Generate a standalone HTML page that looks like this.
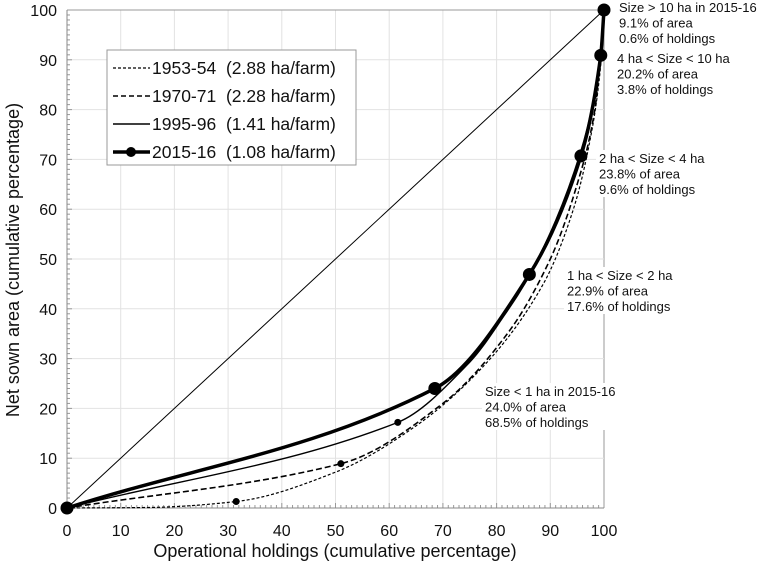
<!DOCTYPE html>
<html><head><meta charset="utf-8"><style>
body{margin:0;background:#fff}
svg{display:block;font-family:"Liberation Sans",Arial,sans-serif}
</style></head><body>
<svg id="chart" width="765" height="565" viewBox="0 0 765 565"></svg>
<script>
const xTicks=[0,10,20,30,40,50,60,70,80,90,100];
const yTicks=[0,10,20,30,40,50,60,70,80,90,100];
const s1953x=[0,15,31.5,50,65,78,88.7,94.3,97.6,99.3,100];
const s1953y=[0,0.1,1.3,7.2,16.5,29,45,60,75,88,100];
const s1970x=[0,51,70,82,90,95,98.3,100];
const s1970y=[0,8.9,21,35,50,65,80,100];
const s1995x=[0,61.6,75,81,86.5,95.5,99.3,100];
const s1995y=[0,17.2,29.3,38,47.5,71,90,100];
const s2015x=[0,68.5,86.1,95.7,99.4,100];
const s2015y=[0,24.0,46.9,70.7,90.9,100];
const NS='http://www.w3.org/2000/svg';
const svg=document.getElementById('chart');
const X0=67,X1=604,Y0=508,Y1=10;
const xs=v=>X0+(X1-X0)*v/100, ys=v=>Y0-(Y0-Y1)*v/100;
function el(t,a,p){const e=document.createElementNS(NS,t);for(const k in a)e.setAttribute(k,a[k]);(p||svg).appendChild(e);return e;}
xTicks.forEach(t=>{if(t>0){const l=el('line',{x1:xs(t),x2:xs(t),y1:Y1,y2:Y0,stroke:t==100?'#999':'#e2e2e2','stroke-width':1});

}});
yTicks.forEach(t=>{if(t>0){const l=el('line',{x1:X0,x2:X1,y1:ys(t),y2:ys(t),stroke:t==100?'#999':'#e2e2e2','stroke-width':1});

}});
for(let i=0;i<=100;i++){
 const a=el('line',{x1:xs(i),x2:xs(i),y1:Y0,y2:Y0-(i%10?3:5),stroke:'#999','stroke-width':1});
 
 
 const b=el('line',{x1:X0,x2:X0+(i%10?3:5),y1:ys(i),y2:ys(i),stroke:'#999','stroke-width':1});
 
 
}
const ax=el('line',{x1:X0,x2:X1,y1:Y0,y2:Y0,stroke:'#888'});


const ay=el('line',{x1:X0,x2:X0,y1:Y1,y2:Y0,stroke:'#888'});


xTicks.forEach(t=>{const e=el('text',{x:xs(t),y:536,'text-anchor':'middle','font-size':16,fill:'#111'});e.textContent=t;

});
yTicks.forEach(t=>{const e=el('text',{x:57,y:ys(t)+6,'text-anchor':'end','font-size':16,fill:'#111'});e.textContent=t;

});
const xt=el('text',{x:335,y:557,'text-anchor':'middle','font-size':18,fill:'#111'});xt.textContent='Operational holdings (cumulative percentage)';


const yt=el('text',{x:0,y:0,'text-anchor':'middle','font-size':18,fill:'#111',transform:'translate(19,260) rotate(-90)'});yt.textContent='Net sown area (cumulative percentage)';


const eq=el('line',{x1:xs(0),y1:ys(0),x2:xs(100),y2:ys(100),stroke:'#000','stroke-width':1});


function smooth(px,py){
 const n=px.length,d=[],m=[];
 for(let i=0;i<n-1;i++)d.push((py[i+1]-py[i])/(px[i+1]-px[i]));
 m[0]=d[0];m[n-1]=d[n-2];
 for(let i=1;i<n-1;i++)m[i]=(d[i-1]*d[i]<=0)?0:2/(1/d[i-1]+1/d[i]);
 let s='M'+xs(px[0])+','+ys(py[0]);
 for(let i=0;i<n-1;i++){
  const h=(px[i+1]-px[i])/3;
  s+='C'+xs(px[i]+h)+','+ys(py[i]+m[i]*h)+' '+xs(px[i+1]-h)+','+ys(py[i+1]-m[i+1]*h)+' '+xs(px[i+1])+','+ys(py[i+1]);
 }
 return s;
}
function series(px,py,w,dash,name,marks,r){
 const g=el('g',{});
 
 
 el('path',{d:smooth(px,py),fill:'none',stroke:'#000','stroke-width':w,'stroke-dasharray':dash},g);
 marks.forEach(i=>{const c=el('circle',{cx:xs(px[i]),cy:ys(py[i]),r:r,fill:'#000'},g);
 
 });
}
series(s1953x,s1953y,1.2,'3,2','series-1953-54',[2],3.5);
series(s1970x,s1970y,1.6,'6,3','series-1970-71',[1],3.5);
series(s1995x,s1995y,1.4,'none','series-1995-96',[1],3.5);
series(s2015x,s2015y,3.5,'none','series-2015-16',[0,1,2,3,4,5],6.5);
const notes=[[619,7,['Size > 10 ha in 2015-16','9.1% of area','0.6% of holdings']],
[617,58,['4 ha < Size < 10 ha','20.2% of area','3.8% of holdings']],
[599,158,['2 ha < Size < 4 ha','23.8% of area','9.6% of holdings']],
[567,275,['1 ha < Size < 2 ha','22.9% of area','17.6% of holdings']],
[485,391,['Size < 1 ha in 2015-16','24.0% of area','68.5% of holdings']]];
notes.forEach(n=>{
 const g=el('g',{});
 
 
 el('rect',{x:n[0]-3,y:n[1]-8,width:145,height:47,fill:'#fff'},g);
 n[2].forEach((s,i)=>{const t=el('text',{x:n[0],y:n[1]+5+i*15.5,'font-size':13,fill:'#111'},g);t.textContent=s;});
});
const lg=el('g',{});


el('rect',{x:107,y:50,width:249,height:115,fill:'#fff',stroke:'#999'},lg);
const items=[['1953-54  (2.88 ha/farm)',1.2,'3,2',0],['1970-71  (2.28 ha/farm)',1.6,'5,3',0],['1995-96  (1.41 ha/farm)',1.4,'none',0],['2015-16  (1.08 ha/farm)',3.5,'none',1]];
items.forEach((it,i)=>{
 const y=68+i*28;
 const g=el('g',{},lg);
 
 
 el('line',{x1:113,x2:150,y1:y,y2:y,stroke:'#000','stroke-width':it[1],'stroke-dasharray':it[2]},g);
 if(it[3])el('circle',{cx:131,cy:y,r:5,fill:'#000'},g);
 const t=el('text',{x:152,y:y+6,'font-size':17.5,fill:'#111'},g);
 t.setAttribute('style','white-space:pre');
 t.textContent=it[0];
});
</script>
</body></html>
